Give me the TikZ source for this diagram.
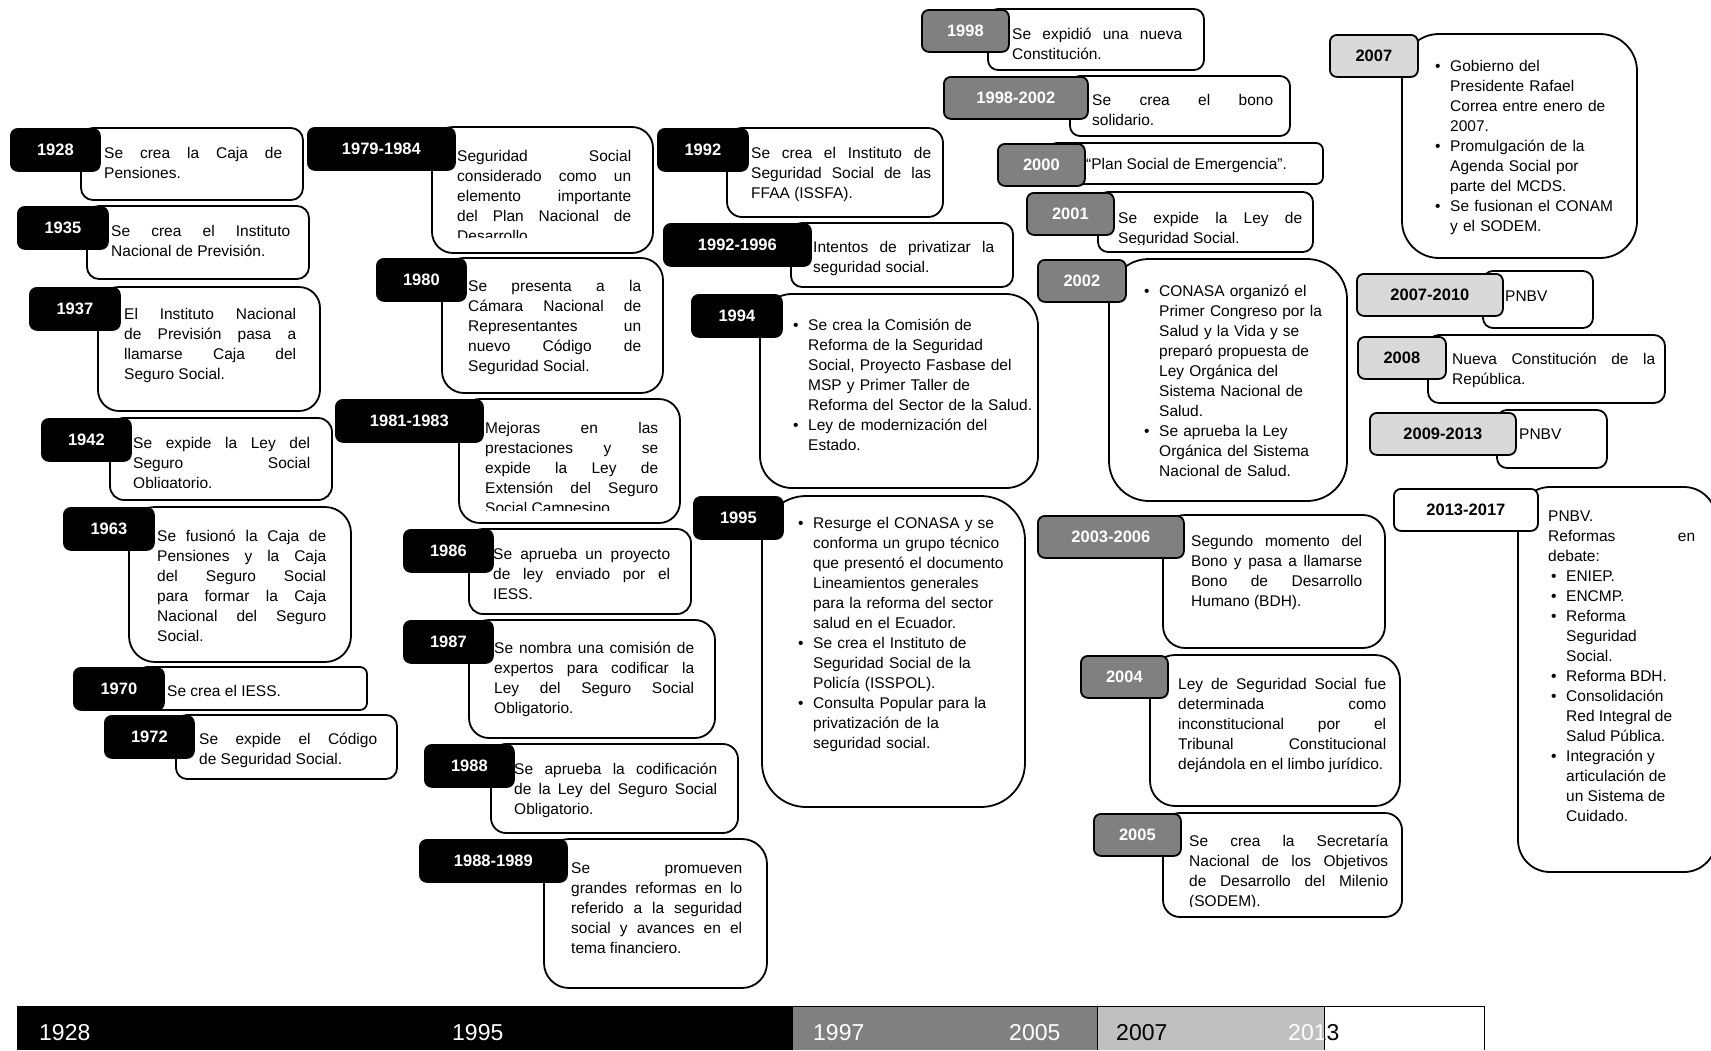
\documentclass[tikz,border=0pt]{standalone}
\usepackage{fontspec}
\setmainfont{Liberation Sans}
\hyphenpenalty=10000
\exhyphenpenalty=10000
\definecolor{gris}{RGB}{128,128,128}
\definecolor{grisclaro}{RGB}{217,217,217}
\definecolor{grisbarra}{RGB}{192,192,192}
\newcommand\bul{\makebox[15pt][l]{\textbullet}}
\newcommand\ind{\hspace*{15pt}}

\tikzset{
  caja/.style={draw, line width=1.8pt, fill=white, rounded corners=#1},
  anio/.style={draw, line width=1.8pt, rounded corners=7pt, anchor=north west,
    inner sep=0pt, minimum width=#1, minimum height=42pt,
    font=\bfseries\fontsize{16.5}{16.5}\selectfont},
  negro/.style={fill=black, text=white},
  oscuro/.style={fill=gris, text=white},
  claro/.style={fill=grisclaro, text=black},
  blanco/.style={fill=white, text=black},
  texto/.style={anchor=base west, inner sep=0pt, text width=#1, align=justify,
    font=\fontsize{15.5}{20}\selectfont},
  lista/.style={anchor=base west, inner sep=0pt, text width=#1, align=left,
    font=\fontsize{15.5}{20}\selectfont},
  barra/.style={anchor=base west, inner sep=0pt, font=\fontsize{23}{23}\selectfont}
}

\begin{document}
\begin{tikzpicture}[x=1pt,y=-1pt]
  \useasboundingbox (0,0) rectangle (1711,1050);
  % column 1
  % 1928
  \draw[caja=12pt] (81,128) rectangle (303,200);
  \node[texto=178pt] (t1928) at (104,158) {Se crea la Caja de\linebreak Pensiones.};
  \node[anio=89pt, negro] (a1928) at (10,128) {1928};
  % 1935
  \draw[caja=12pt] (87,206) rectangle (309,279);
  \node[texto=179pt] (t1935) at (111,236) {Se crea el Instituto\linebreak Nacional de Previsión.};
  \node[anio=90pt, negro] (a1935) at (17,206) {1935};
  % 1937
  \draw[caja=21pt] (98,287) rectangle (320,411);
  \node[texto=172pt] (t1937) at (124,319) {El Instituto Nacional\linebreak de Previsión pasa a\linebreak llamarse Caja del\linebreak Seguro Social.};
  \node[anio=90pt, negro] (a1937) at (29,287) {1937};
  % 1942
  \draw[caja=14pt] (110,418) rectangle (332,500);
  \begin{scope}
    \clip (110,418) rectangle (332,487);
    \node[texto=177pt] (t1942) at (133,448) {Se expide la Ley del\linebreak Seguro Social\linebreak Obligatorio.};
  \end{scope}
  \node[anio=89pt, negro] (a1942) at (41,418) {1942};
  % 1963
  \draw[caja=26pt] (129,507) rectangle (351,662);
  \node[texto=169pt] (t1963) at (157,541) {Se fusionó la Caja de\linebreak Pensiones y la Caja\linebreak del Seguro Social\linebreak para formar la Caja\linebreak Nacional del Seguro\linebreak Social.};
  \node[anio=90pt, negro] (a1963) at (63,507) {1963};
  % 1970
  \draw[caja=7pt] (140,667) rectangle (367,710);
  \node[texto=190pt] (t1970) at (167,696) {Se crea el IESS.};
  \node[anio=90pt, negro] (a1970) at (73,667) {1970};
  % 1972
  \draw[caja=11pt] (176,715) rectangle (397,779);
  \node[texto=178pt] (t1972) at (199,744) {Se expide el Código\linebreak de Seguridad Social.};
  \node[anio=89pt, negro] (a1972) at (104,715) {1972};

  % column 2
  % 1979-1984
  \draw[caja=21pt] (432,127) rectangle (653,253);
  \begin{scope}
    \clip (432,127) rectangle (653,237);
    \node[texto=174pt] (t1979) at (457,161) {Seguridad Social\linebreak considerado como un\linebreak elemento importante\linebreak del Plan Nacional de\linebreak Desarrollo};
  \end{scope}
  \node[anio=147pt, negro] (a1979) at (307,127) {1979-1984};
  % 1980
  \draw[caja=22pt] (442,258) rectangle (663,393);
  \node[texto=173pt] (t1980) at (468,291) {Se presenta a la\linebreak Cámara Nacional de\linebreak Representantes un\linebreak nuevo Código de\linebreak Seguridad Social.};
  \node[anio=89pt, negro] (a1980) at (376,258) {1980};
  % 1981-1983
  \draw[caja=21pt] (459,399) rectangle (680,523);
  \begin{scope}
    \clip (459,399) rectangle (680,510);
    \node[texto=173pt] (t1981) at (485,433) {Mejoras en las\linebreak prestaciones y se\linebreak expide la Ley de\linebreak Extensión del Seguro\linebreak Social Campesino};
  \end{scope}
  \node[anio=147pt, negro] (a1981) at (335,399) {1981-1983};
  % 1986
  \draw[caja=14pt] (469,529) rectangle (691,614);
  \node[texto=177pt] (t1986) at (493,559) {Se aprueba un proyecto\linebreak de ley enviado por el\linebreak IESS.};
  \node[anio=89pt, negro] (a1986) at (403,529) {1986};
  % 1987
  \draw[caja=20pt] (469,620) rectangle (715,738);
  \node[texto=200pt] (t1987) at (494,653) {Se nombra una comisión de\linebreak expertos para codificar la\linebreak Ley del Seguro Social\linebreak Obligatorio.};
  \node[anio=89pt, negro] (a1987) at (403,620) {1987};
  % 1988
  \draw[caja=15pt] (491,744) rectangle (738,833);
  \node[texto=203pt] (t1988) at (514,774) {Se aprueba la codificación\linebreak de la Ley del Seguro Social\linebreak Obligatorio.};
  \node[anio=89pt, negro] (a1988) at (424,744) {1988};
  % 1988-1989
  \draw[caja=25pt] (544,839) rectangle (767,988);
  \node[texto=171pt] (t1989) at (571,873) {Se promueven\linebreak grandes reformas en lo\linebreak referido a la seguridad\linebreak social y avances en el\linebreak tema financiero.};
  \node[anio=147pt, negro] (a1989) at (419,839) {1988-1989};

  % column 3
  % 1992
  \draw[caja=15pt] (727,128) rectangle (943,217);
  \node[texto=180pt] (t1992) at (751,158) {Se crea el Instituto de\linebreak Seguridad Social de las\linebreak FFAA (ISSFA).};
  \node[anio=90pt, negro] (a1992) at (657,128) {1992};
  % 1992-1996
  \draw[caja=11pt] (791,223) rectangle (1013,287);
  \node[texto=181pt] (t1996) at (813,252) {Intentos de privatizar la\linebreak seguridad social.};
  \node[anio=147pt, negro] (a1996) at (663,223) {1992-1996};
  % 1994
  \draw[caja=32pt] (760,294) rectangle (1038,488);
  \node[lista=260pt] (t1994) at (793,330) {\bul Se crea la Comisión de\\
    \ind Reforma de la Seguridad\\
    \ind Social, Proyecto Fasbase del\\
    \ind MSP y Primer Taller de\\
    \ind Reforma del Sector de la Salud.\\
    \bul Ley de modernización del\\
    \ind Estado.};
  \node[anio=90pt, negro] (a1994) at (691,294) {1994};
  % 1995
  \draw[caja=44pt] (762,496) rectangle (1025,807);
  \node[lista=250pt] (t1995) at (798,528) {\bul Resurge el CONASA y se\\
    \ind conforma un grupo técnico\\
    \ind que presentó el documento\\
    \ind Lineamientos generales\\
    \ind para la reforma del sector\\
    \ind salud en el Ecuador.\\
    \bul Se crea el Instituto de\\
    \ind Seguridad Social de la\\
    \ind Policía (ISSPOL).\\
    \bul Consulta Popular para la\\
    \ind privatización de la\\
    \ind seguridad social.};
  \node[anio=89pt, negro] (a1995) at (693,496) {1995};

  % column 4
  % 1998
  \draw[caja=10pt] (988,9) rectangle (1204,70);
  \node[texto=170pt] (t1998) at (1012,39) {Se expidió una nueva\linebreak Constitución.};
  \node[anio=87pt, oscuro] (a1998) at (921,9) {1998};
  % 1998-2002
  \draw[caja=10pt] (1070,76) rectangle (1290,136);
  \node[texto=181pt] (t1998b) at (1092,105) {Se crea el bono\linebreak solidario.};
  \node[anio=144pt, oscuro] (a1998b) at (943,76) {1998-2002};
  % 2000
  \draw[caja=7pt] (1050,143) rectangle (1323,184);
  \node[texto=230pt] (t2000) at (1086,169) {“Plan Social de Emergencia”.};
  \node[anio=87pt, oscuro] (a2000) at (997,143) {2000};
  % 2001
  \draw[caja=10pt] (1098,192) rectangle (1313,252);
  \begin{scope}
    \clip (1098,192) rectangle (1313,244);
    \node[texto=184pt] (t2001) at (1118,223) {Se expide la Ley de\linebreak Seguridad Social.};
  \end{scope}
  \node[anio=87pt, oscuro] (a2001) at (1026,192) {2001};
  % 2002
  \draw[caja=40pt] (1109,259) rectangle (1347,501);
  \node[lista=220pt] (t2002) at (1144,296) {\bul CONASA organizó el\\
    \ind Primer Congreso por la\\
    \ind Salud y la Vida y se\\
    \ind preparó propuesta de\\
    \ind Ley Orgánica del\\
    \ind Sistema Nacional de\\
    \ind Salud.\\
    \bul Se aprueba la Ley\\
    \ind Orgánica del Sistema\\
    \ind Nacional de Salud.};
  \node[anio=88pt, oscuro] (a2002) at (1037,259) {2002};
  % 2003-2006
  \draw[caja=22pt] (1163,515) rectangle (1385,648);
  \node[texto=171pt] (t2003) at (1191,546) {Segundo momento del\linebreak Bono y pasa a llamarse\linebreak Bono de Desarrollo\linebreak Humano (BDH).};
  \node[anio=146pt, oscuro] (a2003) at (1037,515) {2003-2006};
  % 2004
  \draw[caja=25pt] (1150,655) rectangle (1400,806);
  \node[texto=208pt] (t2004) at (1178,689) {Ley de Seguridad Social fue\linebreak determinada como\linebreak inconstitucional por el\linebreak Tribunal Constitucional\linebreak dejándola en el limbo jurídico.};
  \node[anio=87pt, oscuro] (a2004) at (1080,655) {2004};
  % 2005
  \draw[caja=17pt] (1163,813) rectangle (1402,917);
  \begin{scope}
    \clip (1163,813) rectangle (1402,906);
    \node[texto=199pt] (t2005) at (1189,846) {Se crea la Secretaría\linebreak Nacional de los Objetivos\linebreak de Desarrollo del Milenio\linebreak (SODEM).};
  \end{scope}
  \node[anio=87pt, oscuro] (a2005) at (1093,813) {2005};

  % column 5
  % 2007
  \draw[caja=37pt] (1402,34) rectangle (1637,258);
  \node[lista=200pt] (t2007) at (1435,71) {\bul Gobierno del\\
    \ind Presidente Rafael\\
    \ind Correa entre enero de\\
    \ind 2007.\\
    \bul Promulgación de la\\
    \ind Agenda Social por\\
    \ind parte del MCDS.\\
    \bul Se fusionan el CONAM\\
    \ind y el SODEM.};
  \node[anio=88pt, claro] (a2007) at (1329,34) {2007};
  % 2007-2010
  \draw[caja=10pt] (1483,271) rectangle (1593,328);
  \node[texto=80pt] (t2010) at (1505,301) {PNBV};
  \node[anio=146pt, claro] (a2010) at (1356,273) {2007-2010};
  % 2008
  \draw[caja=11pt] (1428,335) rectangle (1665,403);
  \node[texto=203pt] (t2008) at (1452,364) {Nueva Constitución de la\linebreak República.};
  \node[anio=88pt, claro] (a2008) at (1357,336) {2008};
  % 2009-2013
  \draw[caja=10pt] (1497,410) rectangle (1607,468);
  \node[texto=80pt] (t2013) at (1519,439) {PNBV};
  \node[anio=146pt, claro] (a2013) at (1369,412) {2009-2013};
  % 2013-2017
  \draw[caja=32pt] (1518,487) rectangle (1716,872);
  \node[texto=147pt] (t2017) at (1548,521) {PNBV.\\
    Reformas en\linebreak debate:\\
    \hspace*{3pt}\bul ENIEP.\\
    \hspace*{3pt}\bul ENCMP.\\
    \hspace*{3pt}\bul Reforma\\
    \hspace*{3pt}\ind Seguridad\\
    \hspace*{3pt}\ind Social.\\
    \hspace*{3pt}\bul Reforma BDH.\\
    \hspace*{3pt}\bul Consolidación\\
    \hspace*{3pt}\ind Red Integral de\\
    \hspace*{3pt}\ind Salud Pública.\\
    \hspace*{3pt}\bul Integración y\\
    \hspace*{3pt}\ind articulación de\\
    \hspace*{3pt}\ind un Sistema de\\
    \hspace*{3pt}\ind Cuidado.};
  \node[anio=144pt, blanco] (a2017) at (1393,488) {2013-2017};

  % timeline bar
  \fill[black] (17,1006) rectangle (793,1050);
  \fill[gris] (793,1006) rectangle (1097,1050);
  \fill[grisbarra] (1097,1006) rectangle (1324,1050);
  \draw[line width=1pt] (17,1006) -- (1484,1006);
  \draw[line width=1pt] (1097,1006) -- (1097,1050);
  \draw[line width=1pt] (1324,1006) -- (1324,1050) (1484,1006) -- (1484,1050);
  \node[barra, text=white] (b1928) at (39,1040) {1928};
  \node[barra, text=white] (b1995) at (452,1040) {1995};
  \node[barra, text=white] (b1997) at (813,1040) {1997};
  \node[barra, text=white] (b2005) at (1009,1040) {2005};
  \node[barra, text=black] (b2007) at (1116,1040) {2007};
  \node[barra, text=white] (b2013) at (1288,1040) {2013};
  \begin{scope}
    \clip (1324,1006) rectangle (1484,1050);
    \node[barra, text=black] (b2013n) at (1288,1040) {2013};
  \end{scope}
\end{tikzpicture}
\end{document}
